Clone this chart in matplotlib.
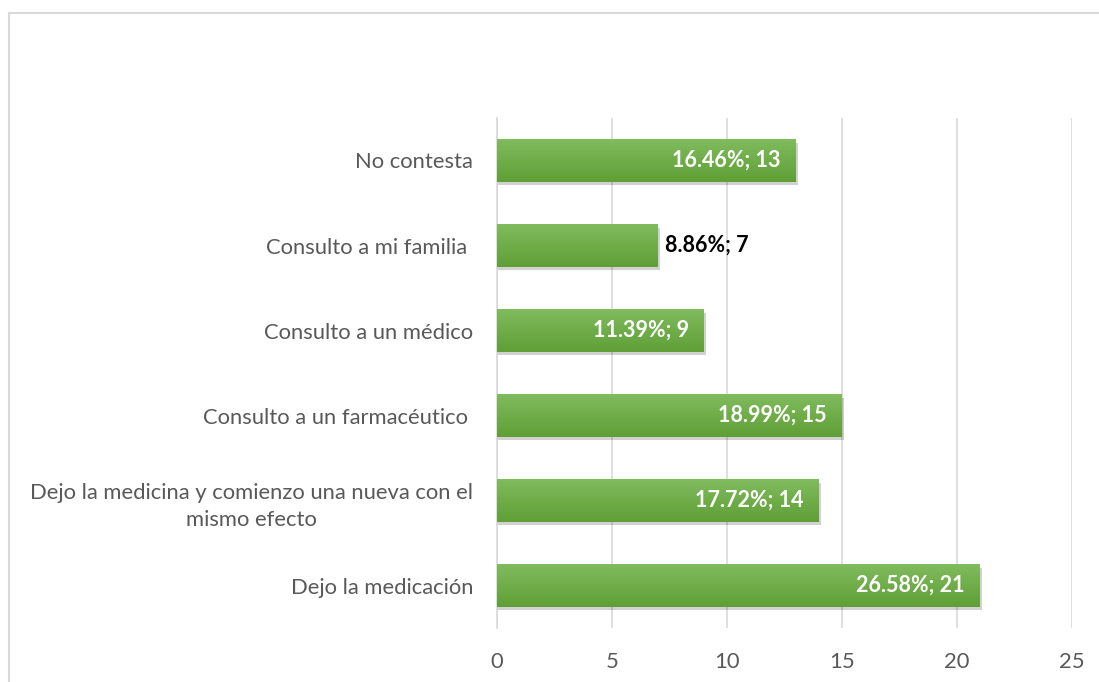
import numpy as np
import matplotlib
matplotlib.use('Agg')
from matplotlib import pyplot as plt
from matplotlib.lines import Line2D

categories = ['Dejo la medicación',
              'Dejo la medicina y comienzo una nueva con el\nmismo efecto',
              'Consulto a un farmacéutico ',
              'Consulto a un médico',
              'Consulto a mi familia ',
              'No contesta']
counts = [21, 14, 15, 9, 7, 13]
percents = ['26.58%', '17.72%', '18.99%', '11.39%', '8.86%', '16.46%']
ticks = [0, 5, 10, 15, 20, 25]

plt.rcParams['font.family'] = ['Lato', 'DejaVu Sans']

fig = plt.figure(figsize=(10.99, 6.82), dpi=100)
ax = fig.add_axes([0.452, 0.079, 0.523, 0.748])

# light frame around the chart (cut off right and bottom)
fig.add_artist(Line2D([9/1099, 1.0], [1 - 13/682, 1 - 13/682], color='#d9d9d9', lw=1.5))
fig.add_artist(Line2D([9/1099, 9/1099], [0.0, 1 - 13/682], color='#d9d9d9', lw=1.5))

y = np.arange(len(categories))
h = 0.5

# shadow
ax.barh(y - 0.04, np.array(counts) + 0.12, height=h, color='#000000', alpha=0.18, zorder=2)
bars = ax.barh(y, counts, height=h, color='#6aaa40', zorder=3)

# vertical gradient inside each bar
grad = np.linspace(0, 1, 64).reshape(-1, 1)
cmap = matplotlib.colors.LinearSegmentedColormap.from_list('g', ['#5f9f36', '#80bb5d'])
for b in bars:
    x0, y0 = b.get_x(), b.get_y()
    im = ax.imshow(grad, cmap=cmap, aspect='auto', origin='lower',
                   extent=[x0, x0 + b.get_width(), y0, y0 + b.get_height()], zorder=4)
    im.set_clip_path(b)

for i, (c, p) in enumerate(zip(counts, percents)):
    txt = p + '; ' + str(c)
    if c < 8:
        ax.text(c + 0.3, i, txt, ha='left', va='center', fontsize=15.5,
                fontweight='bold', color='black', zorder=5)
    else:
        ax.text(c - 0.65, i, txt, ha='right', va='center', fontsize=15.5,
                fontweight='bold', color='white', zorder=5)

ax.set_xlim(0, 25)
ax.set_ylim(-0.5, len(categories) - 0.5)
ax.set_xticks(ticks)
ax.set_yticks(y)
ax.set_yticklabels(categories)
for lab in ax.get_yticklabels():
    lab.set_multialignment('center')
    lab.set_linespacing(1.45)
ax.tick_params(axis='both', length=0, labelsize=15.8, colors='#595959')
ax.tick_params(axis='y', pad=17)
ax.tick_params(axis='x', pad=17)
ax.grid(axis='x', color='#d9d9d9', lw=1.2, zorder=0)
ax.set_axisbelow(True)
for s in ['top', 'right', 'bottom']:
    ax.spines[s].set_visible(False)
ax.spines['left'].set_color('#d9d9d9')
ax.spines['left'].set_linewidth(1.2)

fig.savefig('out.png', dpi=100)
